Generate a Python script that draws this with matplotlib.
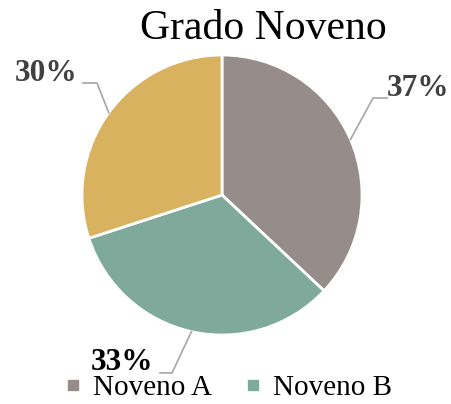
import numpy as np
import matplotlib.pyplot as plt
from matplotlib.lines import Line2D

# datos
grupos = ['Noveno A', 'Noveno B', 'Noveno C']
porcentajes = [37, 33, 30]
colores = ['#968D8A', '#7FAA9B', '#D8B25F']
etiquetas = ['37%', '33%', '30%']

plt.rcParams['font.family'] = ['Liberation Serif', 'DejaVu Serif']

fig = plt.figure(figsize=(4.52, 4.04), dpi=100)
ax = fig.add_axes([82 / 452, (404 - 335) / 404, 280 / 452, 280 / 404])

wedges, _ = ax.pie(porcentajes, colors=colores, startangle=90, counterclock=False,
                   wedgeprops=dict(edgecolor='white', linewidth=2))
ax.set_xlim(-1, 1)
ax.set_ylim(-1, 1)
ax.set_aspect('equal')
ax.axis('off')

# posiciones de etiquetas (codo de la linea, fin de la linea, texto)
codos = [(1.079, 0.693), (-0.357, -1.271), (-0.893, 0.80)]
finales = [(1.179, 0.693), (-0.443, -1.271), (-0.993, 0.80)]
textos = [(1.18, 0.76, 'left'), (-0.49, -1.20, 'right'), (-1.03, 0.871, 'right')]
color_txt = ['#404040', '#000000', '#404040']

for w, et, c, f, t, ct in zip(wedges, etiquetas, codos, finales, textos, color_txt):
    ang = np.deg2rad((w.theta1 + w.theta2) / 2)
    x0, y0 = np.cos(ang), np.sin(ang)
    ax.plot([x0, c[0], f[0]], [y0, c[1], f[1]], color='#A6A6A6', lw=1.2,
            clip_on=False, zorder=1)
    ax.text(t[0], t[1], et, ha=t[2], va='center', fontsize=22.5,
            fontweight='bold', color=ct, clip_on=False)

fig.text(263 / 452, 1 - 29 / 404, 'Grado Noveno', ha='center', va='center',
         fontsize=30, color='black')

handles = [Line2D([], [], marker='s', ls='', color=colores[i], markersize=6.5)
           for i in range(2)]
fig.legend(handles, grupos[:2], loc='center', bbox_to_anchor=(228 / 452, 1 - 388 / 404),
           ncol=2, frameon=False, fontsize=21, handlelength=0.6, handletextpad=0.4,
           columnspacing=1.1, borderpad=0)

fig.savefig('out.png', dpi=100)
